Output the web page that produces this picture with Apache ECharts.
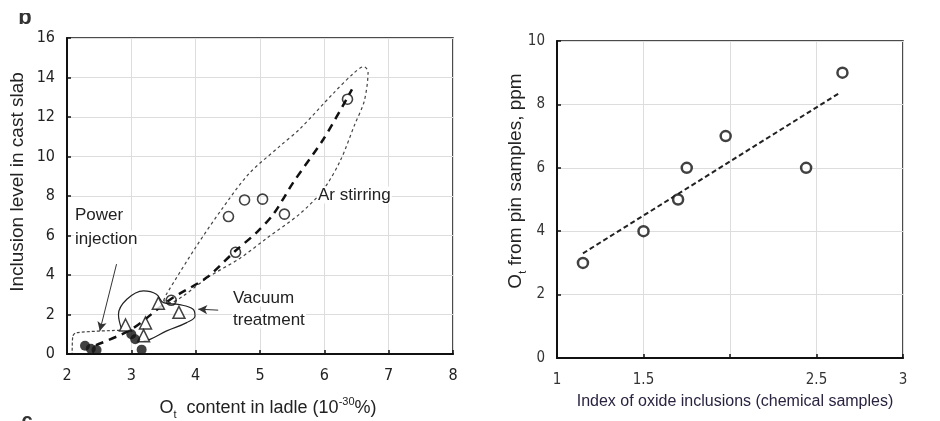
<!DOCTYPE html>
<html><head><meta charset="utf-8">
<script src="https://cdn.jsdelivr.net/npm/echarts@6/dist/echarts.min.js"></script>
<style>html,body{margin:0;padding:0;background:#fff}#c{width:940px;height:421px}</style>
</head><body><div id="c"></div>
<script>
// ---------- Left panel data ----------
const leftXTicks = [2, 3, 4, 5, 6, 7, 8];
const leftYTicks = [0, 2, 4, 6, 8, 10, 12, 14, 16];
const arStirringPts = [[6.36,12.9],[4.76,7.8],[5.04,7.84],[4.51,6.96],[5.38,7.08],[4.62,5.15],[3.62,2.72]];
const vacuumPts = [[3.42,2.57],[3.74,2.11],[2.91,1.47],[3.22,1.57],[3.19,0.93]];
const powderPts = [[2.28,0.42],[2.37,0.27],[2.46,0.2],[3.0,1.0],[3.06,0.75],[3.16,0.22]];
const leftTrend = [[2.45,0.45],[3.0,1.25],[3.6,2.75],[4.17,3.87],[4.61,5.2],[4.95,6.16],[5.21,7.09],[5.52,8.7],[5.99,10.9],[6.43,13.4]];
const arEnvelope = [[3.5,2.7],[3.55,3.05],[4.02,5.5],[4.4,7.3],[4.82,9.1],[5.3,10.5],[5.62,11.4],[6.14,13.2],[6.45,14.2],[6.61,14.55],[6.68,14.3],[6.62,12.8],[6.47,11.6],[6.25,9.8],[5.98,8.3],[5.62,7.1],[5.1,5.85],[4.69,4.85],[4.2,3.9],[3.81,2.95],[3.6,2.6],[3.5,2.7]];
const vacEnvelope = [[2.85,1.25],[2.8,2.0],[2.93,2.77],[3.19,3.2],[3.39,3.03],[3.5,2.6],[3.75,2.5],[3.96,2.27],[3.99,1.93],[3.86,1.59],[3.55,1.17],[3.29,0.74],[3.19,0.66]];
const powderEnvelope = [[2.82,1.2],[2.15,1.08],[2.09,0.9],[2.08,0.05]];
const powderArrow = [[2.77,4.55],[2.51,1.17]];
const vacuumArrow = [[4.35,2.22],[4.04,2.27]];
// ---------- Right panel data ----------
const rightXTicks = ['1', '1.5', '', '2.5', '3'];
const rightYTicks = [0, 2, 4, 6, 8, 10];
const pinX = [1.15, 1.5, 1.7, 1.75, 1.975, 2.44, 2.65];
const pinY = [3, 4, 5, 6, 7, 6, 9];
const rightTrend = [[1.15,3.3],[2.63,8.35]];

const FONT = 'Liberation Sans, Arial, sans-serif';
const NARROW = '"Liberation Sans Narrow", "DejaVu Sans Condensed", "Liberation Sans", sans-serif';
const txt = '#222';

const chart = echarts.init(document.getElementById('c'), null, {renderer:'canvas'});

function axisCommon(){
  return {
    axisLine:{show:true, onZero:false, lineStyle:{color:'#111', width:2}},
    axisTick:{show:true, inside:true, length:4, lineStyle:{color:'#111', width:1.5}},
    splitLine:{show:true, lineStyle:{color:'#ddd', width:1}},
  };
}
function arrowLine(pts){
  return {silent:true, symbol:['none','arrow'], symbolSize:[7,9], label:{show:false},
    lineStyle:{color:'#333', width:1, type:'solid'},
    data:[[{coord:pts[0]},{coord:pts[1]}]]};
}
function label(x, y, t){
  return {type:'text', x:x, y:y, z:10, style:{text:t, font:'17px '+FONT, fill:txt, align:'left', verticalAlign:'middle', backgroundColor:'#fff', padding:[0,1]}};
}

chart.setOption({
  animation:false,
  backgroundColor:'#fff',
  grid:[
    {left:67, top:38, width:386, height:316, show:true, borderColor:'#111', borderWidth:1.5, backgroundColor:'transparent'},
    {left:557, top:41, width:346, height:317, show:true, borderColor:'#111', borderWidth:1.5, backgroundColor:'transparent'}
  ],
  xAxis:[
    Object.assign(axisCommon(), {gridIndex:0, type:'value', min:leftXTicks[0], max:leftXTicks[leftXTicks.length-1], interval:1,
      axisLabel:{color:txt, fontSize:16, fontFamily:NARROW, margin:14}}),
    Object.assign(axisCommon(), {gridIndex:1, type:'value', min:1, max:3, interval:0.5,
      axisLabel:{color:'#333', fontSize:15, fontFamily:NARROW, margin:15,
        formatter:(v)=>{const i=Math.round((v-1)/0.5); return rightXTicks[i]!==undefined?rightXTicks[i]:'';}}})
  ],
  yAxis:[
    Object.assign(axisCommon(), {gridIndex:0, type:'value', min:leftYTicks[0], max:leftYTicks[leftYTicks.length-1], interval:2,
      axisLabel:{color:txt, fontSize:16, fontFamily:NARROW, margin:12}}),
    Object.assign(axisCommon(), {gridIndex:1, type:'value', min:rightYTicks[0], max:rightYTicks[rightYTicks.length-1], interval:2,
      axisLabel:{color:'#333', fontSize:15, fontFamily:NARROW, margin:12}})
  ],
  graphic:[
    {type:'text', x:18, y:182, rotation:Math.PI/2, style:{text:'Inclusion level in cast slab', font:'19px '+FONT, fill:txt, align:'center', verticalAlign:'middle'}},
    {type:'text', x:268, y:408, style:{text:'{m|O}{s|t}{m|  content in ladle (10}{p|-30}{m|%)}', align:'center', verticalAlign:'middle', fill:txt,
      rich:{m:{fontSize:18, fontFamily:FONT, color:txt, lineHeight:22}, s:{fontSize:11, fontFamily:FONT, color:txt, verticalAlign:'bottom', lineHeight:24}, p:{fontSize:11, fontFamily:FONT, color:txt, verticalAlign:'top', lineHeight:22}}}},
    {type:'text', x:516, y:181, rotation:Math.PI/2, style:{text:'{m|O}{s|t}{m| from pin samples, ppm}', align:'center', verticalAlign:'middle', fill:txt,
      rich:{m:{fontSize:19, fontFamily:FONT, color:txt, lineHeight:22}, s:{fontSize:11, fontFamily:FONT, color:txt, verticalAlign:'bottom', lineHeight:24}}}},
    {type:'text', x:735, y:402, style:{text:'Index of oxide inclusions (chemical samples)', font:'16px '+FONT, fill:'#2a2340', align:'center', verticalAlign:'middle'}},
    {type:'text', x:25, y:29, z:1, style:{text:'b', font:'bold 22px '+FONT, fill:'#333', align:'center', verticalAlign:'bottom'}},
    {type:'rect', z:5, shape:{x:10, y:0, width:35, height:13}, style:{fill:'#fff'}},
    {type:'text', x:27, y:411, style:{text:'c', font:'bold 20px '+FONT, fill:'#333', align:'center', verticalAlign:'top'}},
    label(74, 215, 'Power'),
    label(74, 239, 'injection'),
    label(232, 298, 'Vacuum'),
    label(232, 320, 'treatment'),
    label(317, 195, 'Ar stirring')
  ],
  series:[
    {type:'line', xAxisIndex:0, yAxisIndex:0, data:arEnvelope, showSymbol:false, smooth:0.3, lineStyle:{color:'#444', width:1.2, type:[3,3]}, z:2},
    {type:'line', xAxisIndex:0, yAxisIndex:0, data:vacEnvelope, showSymbol:false, smooth:0.4, lineStyle:{color:'#222', width:1.2, type:'solid'}, z:2},
    {type:'line', xAxisIndex:0, yAxisIndex:0, data:powderEnvelope, showSymbol:false, smooth:0.3, lineStyle:{color:'#444', width:1.2, type:[3,2]}, z:2,
      markLine:arrowLine(powderArrow)},
    {type:'line', xAxisIndex:0, yAxisIndex:0, data:leftTrend, showSymbol:false, smooth:0.3, lineStyle:{color:'#111', width:2.5, type:[8,6]}, z:3,
      markLine:arrowLine(vacuumArrow)},
    {type:'scatter', xAxisIndex:0, yAxisIndex:0, data:arStirringPts, symbol:'circle', symbolSize:10, itemStyle:{color:'rgba(255,255,255,0)', borderColor:'#111', borderWidth:1.6}, z:4},
    {type:'scatter', xAxisIndex:0, yAxisIndex:0, data:vacuumPts, symbol:'triangle', symbolSize:12, itemStyle:{color:'#fff', borderColor:'#111', borderWidth:1.5}, z:4},
    {type:'scatter', xAxisIndex:0, yAxisIndex:0, data:powderPts, symbol:'circle', symbolSize:10, itemStyle:{color:'#111'}, z:4},
    {type:'line', xAxisIndex:1, yAxisIndex:1, data:rightTrend, showSymbol:false, lineStyle:{color:'#222', width:2, type:[5,3]}, z:3},
    {type:'scatter', xAxisIndex:1, yAxisIndex:1, data:pinX.map((x,i)=>[x,pinY[i]]), symbol:'circle', symbolSize:10, itemStyle:{color:'#fff', borderColor:'#111', borderWidth:2.5}, z:4}
  ]
});
</script></body></html>
